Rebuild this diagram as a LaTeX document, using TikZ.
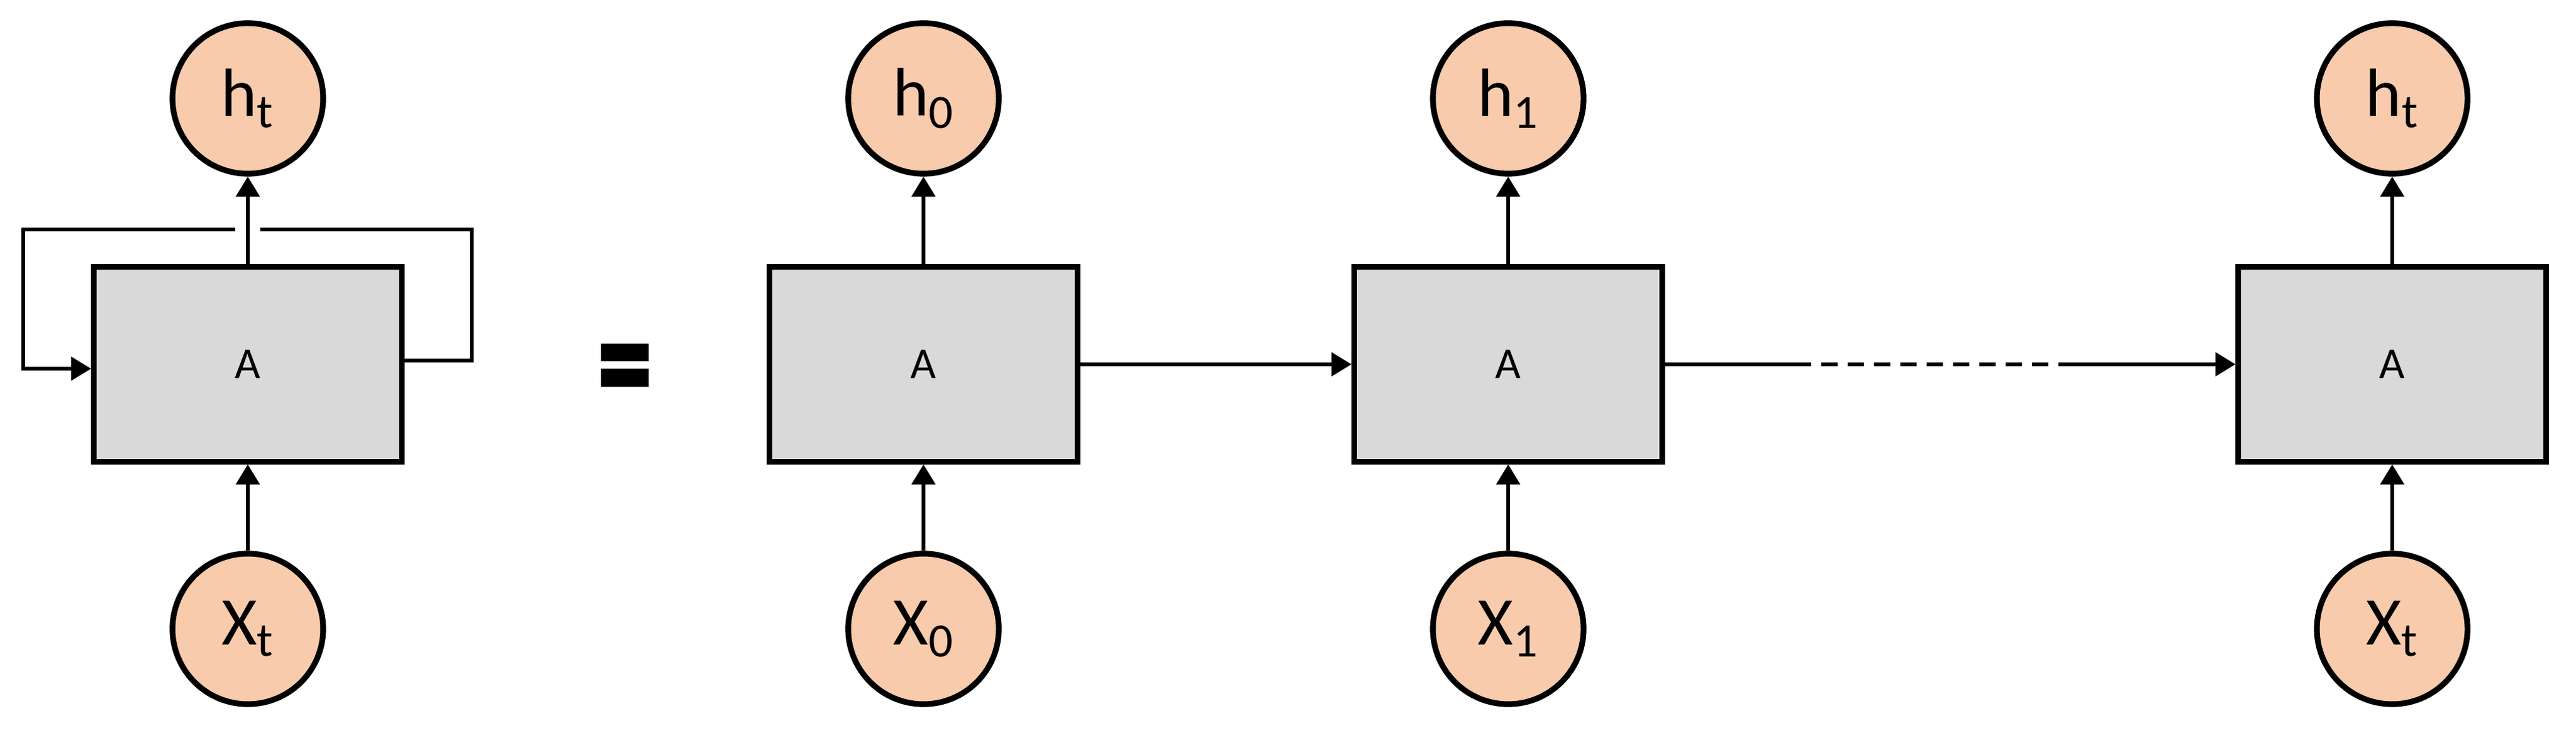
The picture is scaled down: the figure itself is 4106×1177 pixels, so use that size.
\documentclass[tikz,border=0pt]{standalone}
\usepackage{fontspec}
\setmainfont{Carlito}
\usetikzlibrary{positioning}
\usetikzlibrary{calc, arrows.meta}

\definecolor{cellfill}{RGB}{217,217,217}
\definecolor{statefill}{RGB}{248,203,173}

\begin{document}
\begin{tikzpicture}
[
	x=0.01cm, y=-0.01cm,
	cell/.style={draw, rectangle, line width=2.6pt, fill=cellfill, minimum width=4.9cm, minimum height=3.1cm, font=\fontsize{20}{24}\selectfont},
	state/.style={draw, circle, line width=2.6pt, fill=statefill, minimum size=2.4cm, inner sep=0pt, font=\fontsize{31}{36}\selectfont},
	flow/.style={line width=1.8pt, -{Triangle[length=0.32cm, width=0.37cm]}},
	plain/.style={line width=1.8pt}
  ]
	\useasboundingbox (0,0) rectangle (4106,1177);

	% folded network
	\node[cell] (A) at (395,581) {A};
	\node[state] (H) at (395,157) {h$_\mathrm{t}$};
	\node[state] (X) at (395,1003) {X$_\mathrm{t}$};
	\draw[flow] (X) -- (A);
	\draw[flow] (A) -- (H);
	\coordinate (LoopR) at (752,575);
	\coordinate (LoopL) at (37,588);
	\draw[plain] (A.east |- LoopR) -- (LoopR) -- (752,366) -- (415,366);
	\draw[flow] (375,366) -- (37,366) -- (LoopL) -- (A.west |- LoopL);

	% equals sign
	\fill (958,548) rectangle (1034,576);
	\fill (958,588) rectangle (1034,617);

	% unrolled network
	\foreach \name/\x/\lab in {A0/1472/0, A1/2404/1, At/3813/t}
	{
		\node[cell] (\name) at (\x,581) {A};
		\node[state] (H\name) at (\x,157) {h$_\mathrm{\lab}$};
		\node[state] (X\name) at (\x,1003) {X$_\mathrm{\lab}$};
		\draw[flow] (X\name) -- (\name);
		\draw[flow] (\name) -- (H\name);
	}
	\draw[flow] (A0) -- (A1);
	\coordinate (DashS) at (2861,581);
	\coordinate (DashE) at (3282,581);
	\draw[plain] (A1) -- (DashS);
	\draw[plain, dash pattern=on 0.26cm off 0.16cm] (DashS) -- (DashE);
	\draw[flow] (DashE) -- (At);
\end{tikzpicture}
\end{document}
